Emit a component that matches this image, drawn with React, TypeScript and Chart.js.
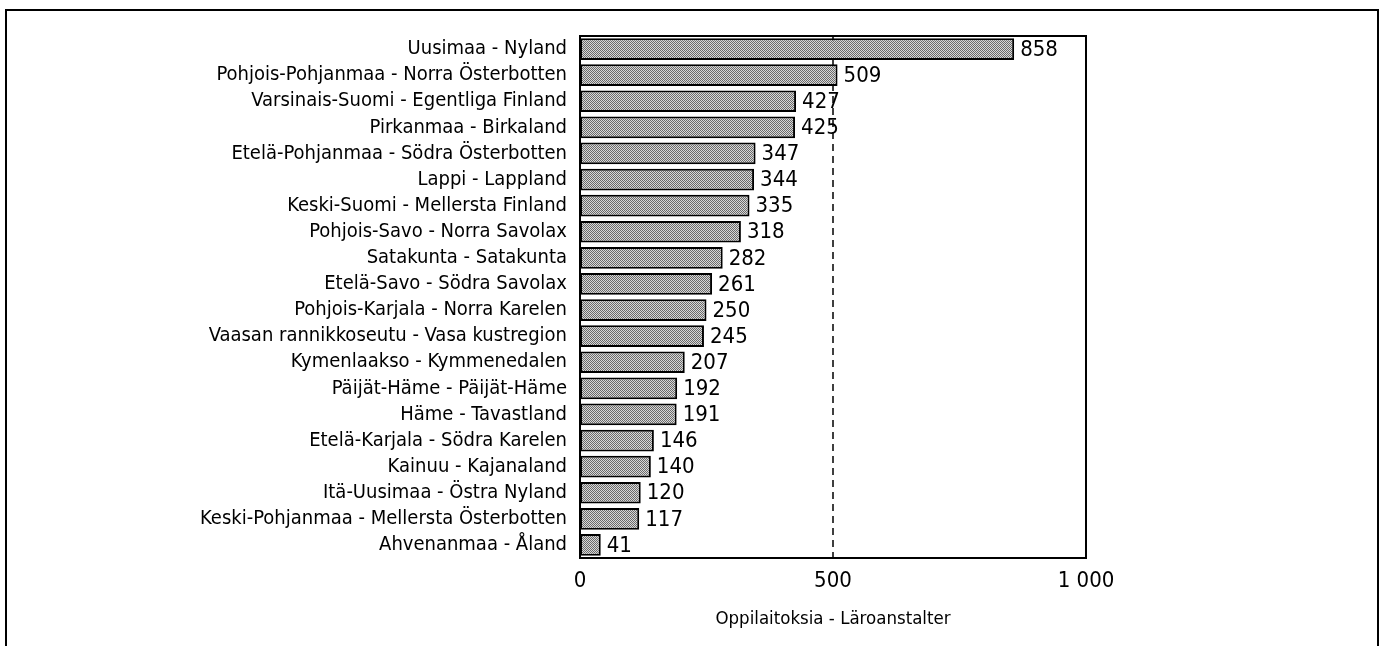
import React, { useEffect, useRef } from "react";
import { Chart, registerables } from "chart.js";

Chart.register(...registerables);

const categories: string[] = [
  "Uusimaa - Nyland",
  "Pohjois-Pohjanmaa - Norra Österbotten",
  "Varsinais-Suomi - Egentliga Finland",
  "Pirkanmaa - Birkaland",
  "Etelä-Pohjanmaa - Södra Österbotten",
  "Lappi - Lappland",
  "Keski-Suomi - Mellersta Finland",
  "Pohjois-Savo - Norra Savolax",
  "Satakunta - Satakunta",
  "Etelä-Savo - Södra Savolax",
  "Pohjois-Karjala - Norra Karelen",
  "Vaasan rannikkoseutu - Vasa kustregion",
  "Kymenlaakso - Kymmenedalen",
  "Päijät-Häme - Päijät-Häme",
  "Häme - Tavastland",
  "Etelä-Karjala - Södra Karelen",
  "Kainuu - Kajanaland",
  "Itä-Uusimaa - Östra Nyland",
  "Keski-Pohjanmaa - Mellersta Österbotten",
  "Ahvenanmaa - Åland",
];

const values: number[] = [
  858, 509, 427, 425, 347, 344, 335, 318, 282, 261, 250, 245, 207, 192, 191,
  146, 140, 120, 117, 41,
];

const xTicks: number[] = [0, 500, 1000];
const xTickLabels: string[] = ["0", "500", "1 000"];
const xTitle = "Oppilaitoksia - Läroanstalter";
const referenceLineValue = 500;

const FONT = "'Liberation Sans Narrow', 'DejaVu Sans Condensed', 'Arial Narrow', sans-serif";

function makePattern(): CanvasPattern | string {
  const c = document.createElement("canvas");
  c.width = 2;
  c.height = 2;
  const g = c.getContext("2d");
  if (!g) return "#aaaaaa";
  g.fillStyle = "#d8d8d8";
  g.fillRect(0, 0, 2, 2);
  g.fillStyle = "#6a6a6a";
  g.fillRect(0, 0, 1, 1);
  g.fillRect(1, 1, 1, 1);
  const p = g.createPattern(c, "repeat");
  return p || "#aaaaaa";
}

export default function App() {
  const canvasRef = useRef<HTMLCanvasElement | null>(null);

  useEffect(() => {
    const canvas = canvasRef.current;
    if (!canvas) return;

    const boxAndLinePlugin = {
      id: "boxAndLine",
      beforeDatasetsDraw(chart: any) {
        const { ctx, chartArea, scales } = chart;
        const x = scales.x.getPixelForValue(referenceLineValue);
        ctx.save();
        ctx.strokeStyle = "#000";
        ctx.lineWidth = 1.5;
        ctx.setLineDash([7, 5]);
        ctx.beginPath();
        ctx.moveTo(x, chartArea.top);
        ctx.lineTo(x, chartArea.bottom);
        ctx.stroke();
        ctx.restore();
      },
      afterDatasetsDraw(chart: any) {
        const { ctx, chartArea } = chart;
        ctx.save();
        ctx.strokeStyle = "#000";
        ctx.lineWidth = 2;
        ctx.strokeRect(
          chartArea.left,
          chartArea.top,
          chartArea.right - chartArea.left,
          chartArea.bottom - chartArea.top
        );
        const meta = chart.getDatasetMeta(0);
        ctx.fillStyle = "#000";
        ctx.font = `22px ${FONT}`;
        ctx.textAlign = "left";
        ctx.textBaseline = "middle";
        meta.data.forEach((bar: any, i: number) => {
          ctx.fillText(String(values[i]), bar.x + 6, bar.y + 1);
        });
        ctx.restore();
      },
    };

    const chart = new Chart(canvas, {
      type: "bar",
      data: {
        labels: categories,
        datasets: [
          {
            data: values,
            backgroundColor: makePattern() as any,
            borderColor: "#000",
            borderWidth: 2,
            borderSkipped: false,
            categoryPercentage: 1,
            barPercentage: 0.83,
          },
        ],
      },
      plugins: [boxAndLinePlugin],
      options: {
        indexAxis: "y",
        animation: false,
        responsive: false,
        maintainAspectRatio: false,
        layout: { padding: { left: 0, top: 36, right: 301, bottom: 0 } },
        plugins: {
          legend: { display: false },
          tooltip: { enabled: false },
        },
        scales: {
          x: {
            min: 0,
            max: 1000,
            afterBuildTicks: (scale: any) => {
              scale.ticks = xTicks.map((v) => ({ value: v }));
            },
            afterFit: (scale: any) => {
              scale.height = 88;
            },
            grid: { display: false, drawTicks: false },
            border: { display: false },
            ticks: {
              padding: 10,
              color: "#000",
              font: { family: FONT, size: 22 },
              maxRotation: 0,
              callback: (v: any) => {
                const idx = xTicks.indexOf(Number(v));
                return idx >= 0 ? xTickLabels[idx] : "";
              },
            },
            title: {
              display: true,
              text: xTitle,
              color: "#000",
              font: { family: FONT, size: 18.5 },
              padding: { top: 0, bottom: 16 },
            },
          },
          y: {
            afterFit: (scale: any) => {
              scale.width = 580;
            },
            grid: { display: false, drawTicks: false },
            border: { display: false },
            ticks: {
              padding: 13,
              color: "#000",
              autoSkip: false,
              font: { family: FONT, size: 20 },
            },
          },
        },
      },
    });

    return () => {
      chart.destroy();
    };
  }, []);

  return (
    <div style={{ position: "fixed", left: 0, top: 0, width: 1387, height: 646, background: "#fff", overflow: "hidden" }}>
      <div
        style={{
          position: "absolute",
          left: 5,
          top: 9,
          width: 1374,
          height: 700,
          border: "2px solid #000",
          boxSizing: "border-box",
        }}
      />
      <canvas ref={canvasRef} width={1387} height={646} style={{ position: "absolute", left: 0, top: 0 }} />
    </div>
  );
}
